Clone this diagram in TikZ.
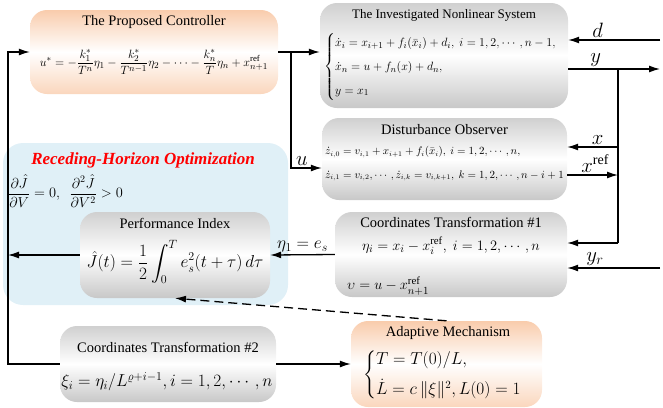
\documentclass[tikz,border=0pt]{standalone}
\usepackage{amsmath,amssymb}
\usepackage{fontspec}
\setmainfont{Liberation Serif}
\usetikzlibrary{arrows.meta,positioning,calc}
\definecolor{peach}{RGB}{249,204,172}
\definecolor{greybox}{RGB}{208,208,208}
\definecolor{skyfill}{RGB}{224,240,247}
\tikzset{
  block/.style    = {rounded corners=17pt, inner sep=0pt, top color=greybox,
                     bottom color=greybox!96!black, middle color=white},
  ctrlblock/.style= {rounded corners=17pt, inner sep=0pt, top color=peach,
                     bottom color=peach!80, middle color=white},
  zone/.style     = {rounded corners=20pt, fill=skyfill, inner sep=0pt},
  ttl/.style      = {inner sep=0pt, font=\fontsize{14.5}{17}\selectfont},
  eqn/.style      = {inner sep=0pt, font=\fontsize{14}{16}\selectfont},
  siglbl/.style   = {inner sep=2pt, font=\fontsize{20}{22}\selectfont},
  sig/.style      = {-{Latex[length=11pt,width=7pt]}, line width=1.3pt},
  wire/.style     = {line width=1.3pt},
}

\begin{document}
\begin{tikzpicture}[x=1pt,y=-1pt]
\useasboundingbox (0,0) rectangle (663,407);
% optimization region and blocks
\node[zone,minimum width=285pt,minimum height=162pt] (rho) at (145.5,224) {};
\node[ctrlblock,minimum width=248pt,minimum height=84pt] (ctrl) at (154,52) {};
\node[block,minimum width=248pt,minimum height=105pt] (sys) at (444,55.5) {};
\node[block,minimum width=245pt,minimum height=82pt] (dob) at (444.5,159) {};
\node[block,minimum width=232pt,minimum height=85pt] (ct1) at (451,254.5) {};
\node[block,minimum width=190pt,minimum height=86pt] (pidx) at (175,255) {};
\node[block,minimum width=216pt,minimum height=76pt] (ct2) at (168,364) {};
\node[ctrlblock,minimum width=191pt,minimum height=86pt] (adp) at (446.5,364) {};

% texts
\node[inner sep=0pt,text=red,font=\fontsize{17}{20}\selectfont\bfseries\itshape] (rhoT) at (143,160) {Receding-Horizon Optimization};
\node[eqn,anchor=west] (rhoE) at (8,191) {$\dfrac{\partial\hat{J}}{\partial V}=0,\ \ \dfrac{\partial^{2}\hat{J}}{\partial V^{2}}>0$};
\node[ttl] (ctrlT) at (154,22) {The Proposed Controller};
\node[eqn,font=\fontsize{12.5}{14}\selectfont] (ctrlE) at (154,62) {$u^{*}=-\dfrac{k_1^{*}}{T^{n}}\eta_1-\dfrac{k_2^{*}}{T^{n-1}}\eta_2-\cdots-\dfrac{k_n^{*}}{T}\eta_n+x_{n+1}^{\mathrm{ref}}$};
\node[ttl,font=\fontsize{13}{15}\selectfont] (sysT) at (444,15) {The Investigated Nonlinear System};
\node[eqn,anchor=west,font=\fontsize{12.3}{14}\selectfont] (sysE) at (324,67) {$\begin{cases}\dot{x}_i=x_{i+1}+f_i(\bar{x}_i)+d_i,\ i=1,2,\cdots,n-1,\\[7pt]
  \dot{x}_n=u+f_n(x)+d_n,\\[7pt] y=x_1\end{cases}$};
\node[ttl] (dobT) at (444.5,130) {Disturbance Observer};
\node[eqn,anchor=west,font=\fontsize{10.5}{12}\selectfont] (dobA) at (325,152) {$\dot{z}_{i,0}=v_{i,1}+x_{i+1}+f_i(\bar{x}_i),\ i=1,2,\cdots,n,$};
\node[eqn,anchor=west,font=\fontsize{10.5}{12}\selectfont] (dobB) at (325,176) {$\dot{z}_{i,1}=v_{i,2},\cdots,\dot{z}_{i,k}=v_{i,k+1},\ k=1,2,\cdots,n-i+1$};
\node[ttl] (ct1T) at (451,222) {Coordinates Transformation \#1};
\node[eqn,font=\fontsize{15.5}{17}\selectfont] (ct1A) at (451,246) {$\eta_i=x_i-x_i^{\mathrm{ref}},\ i=1,2,\cdots,n$};
\node[eqn,anchor=west,font=\fontsize{15.5}{17}\selectfont] (ct1B) at (347,286) {$\upsilon=u-x_{n+1}^{\mathrm{ref}}$};
\node[ttl] (pidxT) at (175,223) {Performance Index};
\node[eqn,font=\fontsize{17.5}{19}\selectfont] (pidxE) at (175,262) {$\hat{J}(t)=\dfrac{1}{2}\displaystyle\int_{0}^{T}e_s^{2}(t+\tau)\,d\tau$};
\node[ttl] (ct2T) at (168,347) {Coordinates Transformation \#2};
\node[eqn,font=\fontsize{16.5}{18}\selectfont] (ct2E) at (167,382) {$\xi_i=\eta_i/L^{\varrho+i-1},i=1,2,\cdots,n$};
\node[ttl] (adpT) at (448,333) {Adaptive Mechanism};
\node[eqn,anchor=west,font=\fontsize{16}{18}\selectfont] (adpE) at (363,375) {$\begin{cases}T=T(0)/L,\\[8pt] \dot{L}=c\,\|\xi\|^{2},L(0)=1\end{cases}$};

% signals
\coordinate (lp) at (8,52);
\coordinate (ub) at (291,168);
\coordinate (dIn) at (660,40);
\coordinate (yOut) at (660,69);
\coordinate (yj) at (618,69);
\coordinate (yb) at (618,243);
\coordinate (xa) at (618,147);
\coordinate (xr) at (618,175);
\coordinate (yrIn) at (660,268);
\draw[sig] (ctrl.east) -- (ctrl.east -| sys.west);
\draw[sig] (ctrl.east -| ub) -- (ub) -- node[siglbl,above,pos=0.35] (lblU) {$u$} (ub -| dob.west);
\draw[sig] (dIn) -- node[siglbl,above,pos=0.68] (lblD) {$d$} (dIn -| sys.east);
\draw[sig] (yOut -| sys.east) -- node[siglbl,above,pos=0.3] (lblY) {$y$} (yOut);
\draw[wire] (yj) -- (yb);
\draw[sig] (yb) -- (yb -| ct1.east);
\draw[sig] (xa) -- node[siglbl,above,pos=0.4] (lblX) {$x$} (xa -| dob.east);
\draw[sig] (xr -| dob.east) -- node[siglbl,above,pos=0.55] (lblXr) {$x^{\mathrm{ref}}$} (xr);
\draw[sig] (yrIn) -- node[siglbl,above,pos=0.7] (lblYr) {$y_r$} (yrIn -| ct1.east);
\draw[sig] (ct1.west) -- node[siglbl,above,font=\fontsize{17}{19}\selectfont] (lblE) {$\eta_1=e_s$} (pidx.east);
\draw[sig] (pidx.west) -- (pidx.west -| lp);
\draw[sig] (ct2.west) -| (lp) -- (ctrl.west);
\draw[sig] (ct2.east) -- (ct2.east -| adp.west);
\draw[sig,dash pattern=on 9pt off 5pt] (adp.north) -- (pidx.south);
\end{tikzpicture}
\end{document}
